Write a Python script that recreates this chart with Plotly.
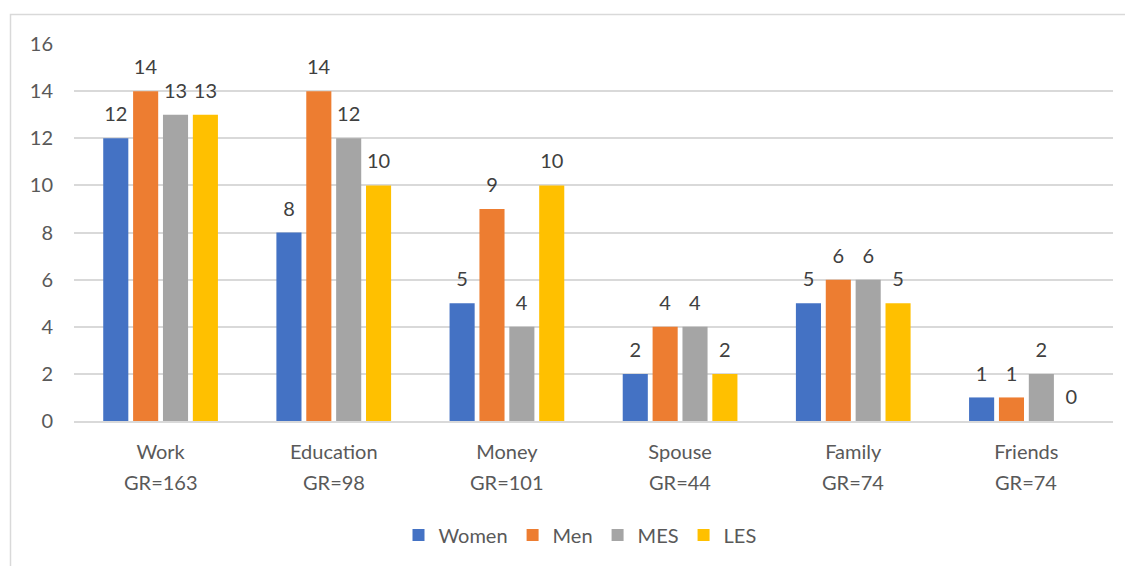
import plotly.graph_objects as go

categories = ["Work", "Education", "Money", "Spouse", "Family", "Friends"]
gr_labels = ["GR=163", "GR=98", "GR=101", "GR=44", "GR=74", "GR=74"]
women = [12, 8, 5, 2, 5, 1]
men = [14, 14, 9, 4, 6, 1]
mes = [13, 12, 4, 4, 6, 2]
les = [13, 10, 10, 2, 5, 0]

series = [("Women", women, "#4472C4"), ("Men", men, "#ED7D31"),
          ("MES", mes, "#A5A5A5"), ("LES", les, "#FFC000")]

FONT = "Lato"
TXT = "#595959"
FS = 20

fig = go.Figure()
for name, vals, col in series:
    fig.add_trace(go.Bar(
        x=categories, y=vals, name=name, marker_color=col,
        marker_line_width=0, offsetgroup=name, cliponaxis=False,
    ))
# transparent spacer bars carrying the data labels a little above each bar
for name, vals, col in series:
    fig.add_trace(go.Bar(
        x=categories, y=[0.42] * len(vals), base=vals, offsetgroup=name,
        marker_color="rgba(0,0,0,0)", marker_line_width=0,
        showlegend=False, hoverinfo="skip",
        text=[str(v) for v in vals], textposition="outside",
        textfont=dict(family=FONT, size=FS, color="#404040"),
        cliponaxis=False,
    ))

for c, g in zip(categories, gr_labels):
    fig.add_annotation(x=c, y=0, xref="x", yref="paper", text=g,
                       showarrow=False, yshift=-61, yanchor="middle",
                       font=dict(family=FONT, size=FS, color=TXT))

W, H = 1125, 566
ml, mr, mt, mb = 74, 12, 44, 145
pw, ph = W - ml - mr, H - mt - mb
fig.add_shape(type="rect", xref="paper", yref="paper",
              x0=(10.5 - ml) / pw, x1=(1140 - ml) / pw,
              y0=(H - 580 - mb) / ph, y1=(H - 14.5 - mb) / ph,
              line=dict(color="#D9D9D9", width=1.5), fillcolor="rgba(0,0,0,0)",
              layer="below")

fig.update_layout(
    width=W, height=H,
    margin=dict(l=ml, r=mr, t=mt, b=mb, autoexpand=False),
    paper_bgcolor="white", plot_bgcolor="white",
    barmode="group", bargap=0.31, bargroupgap=0.16,
    font=dict(family=FONT, size=FS, color=TXT),
    legend=dict(orientation="h", x=(580 - ml) / pw, xanchor="center",
                yref="container", y=(H - 535) / H, yanchor="middle",
                font=dict(family=FONT, size=FS, color=TXT), itemwidth=30,
                traceorder="normal"),
    xaxis=dict(showgrid=False, showline=True, linecolor="#D9D9D9", linewidth=2,
               ticks="", ticklabelstandoff=12, automargin=False,
               tickfont=dict(family=FONT, size=FS, color=TXT)),
    yaxis=dict(range=[0, 16], dtick=2, showgrid=True, gridcolor="#D9D9D9",
               gridwidth=1.5, zeroline=False, showline=False, ticks="",
               ticklabelstandoff=20, automargin=False,
               tickfont=dict(family=FONT, size=FS, color=TXT)),
)

fig.write_html("out.html")
